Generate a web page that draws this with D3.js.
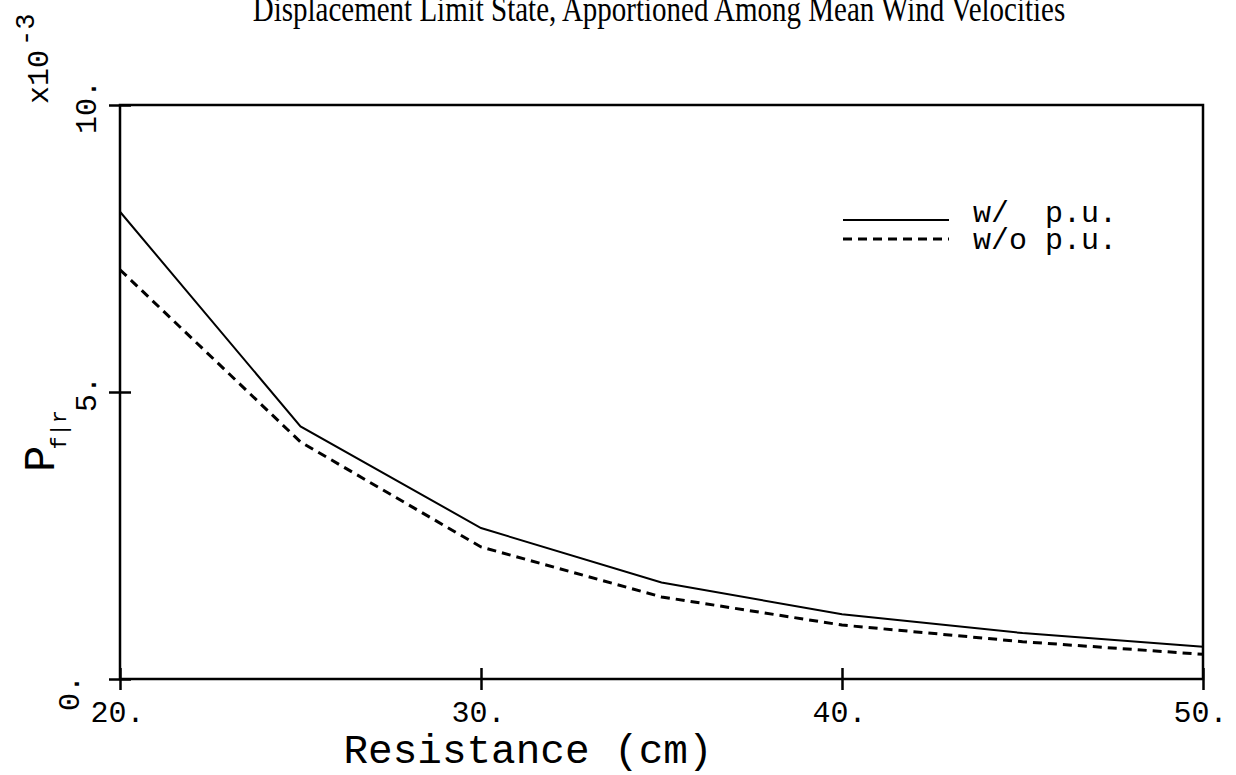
<!DOCTYPE html>
<html>
<head>
<meta charset="utf-8">
<script src="https://cdn.jsdelivr.net/npm/d3@7"></script>
<style>
  html, body { margin: 0; padding: 0; background: #fff; }
  svg { display: block; }
  .mono { font-family: "Liberation Mono", "DejaVu Sans Mono", monospace; fill: #000; }
</style>
</head>
<body>
<svg id="chart" width="1236" height="775"></svg>
<script>
// ---- data ----
const resistance = [20, 25, 30, 35, 40, 45, 50];
const withPU    = [8.14, 4.40, 2.63, 1.68, 1.13, 0.80, 0.56];
const withoutPU = [7.13, 4.13, 2.30, 1.43, 0.94, 0.65, 0.43];
const xTickValues = [20, 30, 40, 50];
const yTickValues = [0, 5, 10];
const seriesNames = ["w/  p.u.", "w/o p.u."];
const titleText = "Displacement Limit State, Apportioned Among Mean Wind Velocities";
const xLabelText = "Resistance (cm)";

(function () {
// ---- layout ----
const svg = d3.select("#chart");
const pL = 120, pR = 1203, pT = 105, pB = 679;
const x = d3.scaleLinear().domain([20, 50]).range([pL, pR]);
const y = d3.scaleLinear().domain([0, 10]).range([pB, pT]);

// title (partially cut at top, as in the scan)
svg.append("text")
  .attr("transform", "translate(659,21) scale(1,1.2)")
  .attr("text-anchor", "middle")
  .style("font-family", "'Liberation Serif', 'Times New Roman', serif")
  .style("font-size", "29px")
  .text(titleText);

// frame
svg.append("rect")
  .attr("x", pL).attr("y", pT)
  .attr("width", pR - pL).attr("height", pB - pT)
  .attr("fill", "none").attr("stroke", "#000").attr("stroke-width", 2.5);

// x axis ticks (crossing)
const xAxis = d3.axisBottom(x).tickValues(xTickValues).tickSize(0).tickFormat("");
const gx = svg.append("g").attr("transform", `translate(0,${pB})`).call(xAxis);
gx.select(".domain").remove();
gx.selectAll(".tick").append("line")
  .attr("y1", -11).attr("y2", 11).attr("stroke", "#000").attr("stroke-width", 2.5);
gx.selectAll(".tick").append("text")
  .attr("class", "mono")
  .attr("x", -3).attr("y", 43)
  .attr("text-anchor", "middle")
  .style("font-size", "30px")
  .attr("fill", "#000")
  .text(d => d + ".");

// y axis ticks (crossing)
const yAxis = d3.axisLeft(y).tickValues(yTickValues).tickSize(0).tickFormat("");
const gy = svg.append("g").attr("transform", `translate(${pL},0)`).call(yAxis);
gy.select(".domain").remove();
gy.selectAll(".tick").append("line")
  .attr("x1", -11).attr("x2", 11).attr("stroke", "#000").attr("stroke-width", 2.5);

// y tick labels rotated
yTickValues.forEach(v => {
  const isZero = v === 0;
  const bx = isZero ? 79 : 96;
  const cy = isZero ? y(v) + 14 : y(v) + 2;
  svg.append("text")
    .attr("class", "mono")
    .attr("transform", `translate(${bx},${cy}) rotate(-90)`)
    .attr("text-anchor", "middle")
    .style("font-size", "30px")
    .text(v + ".");
});

// multiplier x10^-3
const mult = svg.append("text")
  .attr("class", "mono")
  .attr("transform", `translate(48,104) rotate(-90)`)
  .style("font-size", "30px");
mult.append("tspan").text("x10");
mult.append("tspan").attr("dy", -14).attr("dx", 4).style("font-size", "27px").text("-3");

// y label P_f|r
const ylab = svg.append("text")
  .attr("class", "mono")
  .attr("transform", `translate(54,472) rotate(-90)`)
  .style("font-size", "44px");
ylab.append("tspan").text("P");
ylab.append("tspan").attr("dy", 12).attr("dx", -4).style("font-size", "22px").text("f|r");

// x label
svg.append("text")
  .attr("class", "mono")
  .attr("x", 528).attr("y", 763)
  .attr("text-anchor", "middle")
  .style("font-size", "41px")
  .text(xLabelText);

// lines
const line = d3.line().x((d, i) => x(resistance[i])).y(d => y(d));
svg.append("path").datum(withPU)
  .attr("d", line).attr("fill", "none").attr("stroke", "#000").attr("stroke-width", 2);
svg.append("path").datum(withoutPU)
  .attr("d", line).attr("fill", "none").attr("stroke", "#000").attr("stroke-width", 3)
  .attr("stroke-dasharray", "9,6");

// legend
const leg = [
  { name: seriesNames[0], ly: 220, ty: 222, dash: null, w: 2 },
  { name: seriesNames[1], ly: 239, ty: 249, dash: "9,6", w: 3 }
];
leg.forEach(l => {
  svg.append("line")
    .attr("x1", 843).attr("x2", 949).attr("y1", l.ly).attr("y2", l.ly)
    .attr("stroke", "#000").attr("stroke-width", l.w)
    .attr("stroke-dasharray", l.dash);
  svg.append("text")
    .attr("class", "mono")
    .attr("x", 973).attr("y", l.ty)
    .style("font-size", "30px")
    .style("white-space", "pre")
    .attr("xml:space", "preserve")
    .text(l.name);
});
})();
</script>
</body>
</html>
